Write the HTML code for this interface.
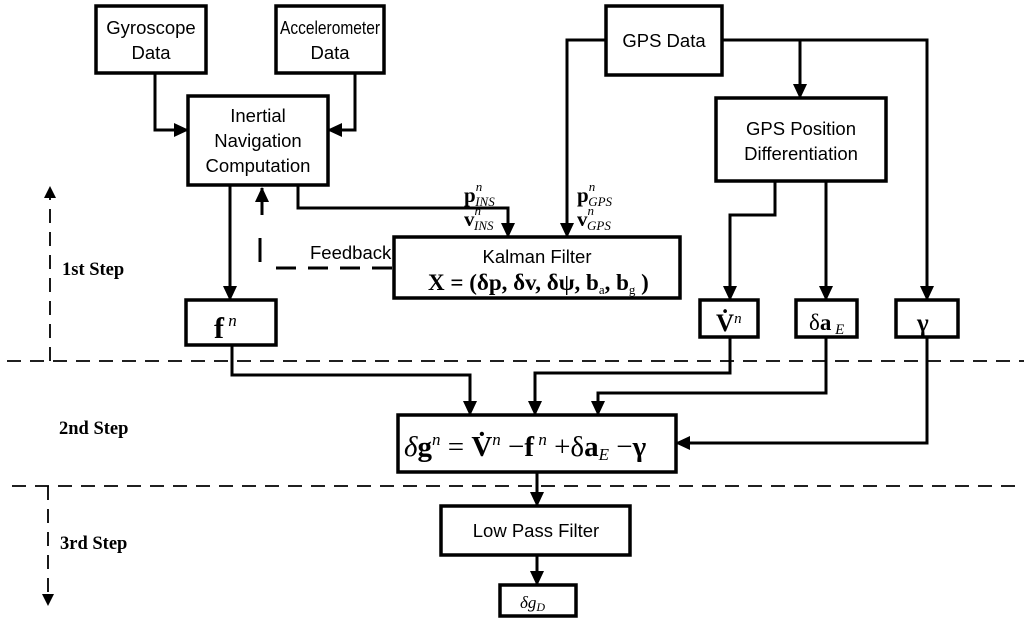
<!DOCTYPE html>
<html><head><meta charset="utf-8"><style>
html,body{margin:0;padding:0;background:#fff;}
svg{display:block;}
.s{font-family:"Liberation Sans",sans-serif;font-size:18.5px;}
.m{font-family:"Liberation Serif",serif;}
</style></head><body>
<svg width="1024" height="623" viewBox="0 0 1024 623" xmlns="http://www.w3.org/2000/svg">
<defs>
<marker id="a" markerWidth="12" markerHeight="16" refX="10" refY="6" orient="auto" markerUnits="userSpaceOnUse" viewBox="0 0 12 12">
<path d="M0,0 L12,6 L0,12 z" fill="#000"/></marker>
<marker id="b" markerWidth="16" markerHeight="16" refX="14" refY="8" orient="auto" markerUnits="userSpaceOnUse" viewBox="0 0 16 16">
<path d="M0,1 L15,8 L0,15 z" fill="#000"/></marker>
</defs>
<g fill="none" stroke="#000" stroke-width="3.5">
<rect x="96" y="6" width="110" height="67"/>
<rect x="276" y="6" width="108" height="67"/>
<rect x="188" y="96" width="140" height="89"/>
<rect x="606" y="6" width="116" height="69"/>
<rect x="716" y="98" width="170" height="83"/>
<rect x="394" y="237" width="286" height="61"/>
<rect x="186" y="300" width="90" height="45"/>
<rect x="700" y="300" width="58" height="37"/>
<rect x="796" y="300" width="61" height="37"/>
<rect x="896" y="300" width="62" height="37"/>
<rect x="398" y="415" width="278" height="57"/>
<rect x="441" y="506" width="189" height="49"/>
<rect x="500" y="585" width="76" height="31"/>
</g>
<g fill="none" stroke="#000" stroke-width="3" marker-end="url(#b)">
<polyline points="155,73 155,130 188,130"/>
<polyline points="355,73 355,130 328,130"/>
<polyline points="606,40 567,40 567,237"/>
<polyline points="722,40 927,40 927,300"/>
<polyline points="800,40 800,98"/>
<polyline points="775,181 775,215 730,215 730,300"/>
<polyline points="826,181 826,300"/>
<polyline points="298,185 298,208 508,208 508,237"/>
<polyline points="230,185 230,300"/>
<polyline points="232,345 232,375 470,375 470,415"/>
<polyline points="730,337 730,373 535,373 535,415"/>
<polyline points="826,337 826,393 598,393 598,415"/>
<polyline points="927,337 927,443 676,443"/>
<polyline points="537,472 537,506"/>
<polyline points="537,555 537,585"/>
<polyline points="262,215 262,188"/>
</g>
<g stroke="#000" fill="none">
<line x1="260" y1="238" x2="260" y2="262" stroke-width="3"/>
<line x1="276" y1="268" x2="394" y2="268" stroke-width="3" stroke-dasharray="20,12"/>
<line x1="7" y1="361" x2="1024" y2="361" stroke-width="1.8" stroke-dasharray="14,9"/>
<line x1="12" y1="486" x2="1024" y2="486" stroke-width="1.8" stroke-dasharray="14,9"/>
<line x1="50" y1="361" x2="50" y2="188" stroke-width="1.8" stroke-dasharray="14,9" marker-end="url(#a)"/>
<line x1="48" y1="486" x2="48" y2="604" stroke-width="1.8" stroke-dasharray="14,9" marker-end="url(#a)"/>
</g>
<g class="s" text-anchor="middle" fill="#000">
<text x="151" y="34">Gyroscope</text><text x="151" y="59">Data</text>
<text x="330" y="34" textLength="100" lengthAdjust="spacingAndGlyphs">Accelerometer</text><text x="330" y="59">Data</text>
<text x="258" y="122">Inertial</text><text x="258" y="147">Navigation</text><text x="258" y="172">Computation</text>
<text x="664" y="47">GPS Data</text>
<text x="801" y="135">GPS Position</text><text x="801" y="160">Differentiation</text>
<text x="537" y="263">Kalman Filter</text>
<text x="536" y="537">Low Pass Filter</text>
<text x="310" y="259" text-anchor="start">Feedback</text>
</g>
<g class="m" fill="#000" font-weight="bold" font-size="18.5">
<text x="62" y="275">1st Step</text>
<text x="59" y="434">2nd Step</text>
<text x="60" y="549">3rd Step</text>
</g>
<g class="m" fill="#000">
<text x="428" y="290" font-size="23" font-weight="bold">X = (δp, δv, δψ, b<tspan font-size="13" font-weight="normal" dy="4">a</tspan><tspan dy="-4">, b</tspan><tspan font-size="13" font-weight="normal" dy="4">g</tspan><tspan dy="-4"> )</tspan></text>
<text x="464" y="202" font-size="21" font-weight="bold">p<tspan font-size="13" font-style="italic" font-weight="normal" dy="-11">n</tspan><tspan font-size="13" font-style="italic" font-weight="normal" dx="-7" dy="15">INS</tspan></text>
<text x="464" y="226" font-size="21" font-weight="bold">v<tspan font-size="13" font-style="italic" font-weight="normal" dy="-11">n</tspan><tspan font-size="13" font-style="italic" font-weight="normal" dx="-7" dy="15">INS</tspan></text>
<text x="577" y="202" font-size="21" font-weight="bold">p<tspan font-size="13" font-style="italic" font-weight="normal" dy="-11">n</tspan><tspan font-size="13" font-style="italic" font-weight="normal" dx="-7" dy="15">GPS</tspan></text>
<text x="577" y="226" font-size="21" font-weight="bold">v<tspan font-size="13" font-style="italic" font-weight="normal" dy="-11">n</tspan><tspan font-size="13" font-style="italic" font-weight="normal" dx="-7" dy="15">GPS</tspan></text>
<text x="214" y="338" font-size="30" font-weight="bold">f<tspan font-size="17" font-style="italic" font-weight="normal" dy="-12"> n</tspan></text>
<text x="716" y="331" font-size="25" font-weight="bold">V̇<tspan font-size="15" font-style="italic" font-weight="normal" dy="-8">n</tspan></text>
<text x="809" y="330" font-size="23">δ<tspan font-weight="bold">a</tspan><tspan font-size="15" font-style="italic" dy="4"> E</tspan></text>
<text x="917" y="331" font-size="25" font-weight="bold">γ</text>
<text x="404" y="456" font-size="29"><tspan font-style="italic">δ</tspan><tspan font-weight="bold">g</tspan><tspan font-size="17" font-style="italic" dy="-11">n</tspan><tspan dy="11"> = </tspan><tspan font-weight="bold">V̇</tspan><tspan font-size="17" font-style="italic" dy="-11">n</tspan><tspan dy="11"> −</tspan><tspan font-weight="bold">f</tspan><tspan font-size="17" font-style="italic" dy="-11"> n</tspan><tspan dy="11"> +δ</tspan><tspan font-weight="bold">a</tspan><tspan font-size="17" font-style="italic" dy="4">E</tspan><tspan dy="-4"> −</tspan><tspan font-weight="bold">γ</tspan></text>
<text x="520" y="608" font-size="17" font-style="italic">δg<tspan font-size="12" dy="3">D</tspan></text>
</g>
</svg>
</body></html>
